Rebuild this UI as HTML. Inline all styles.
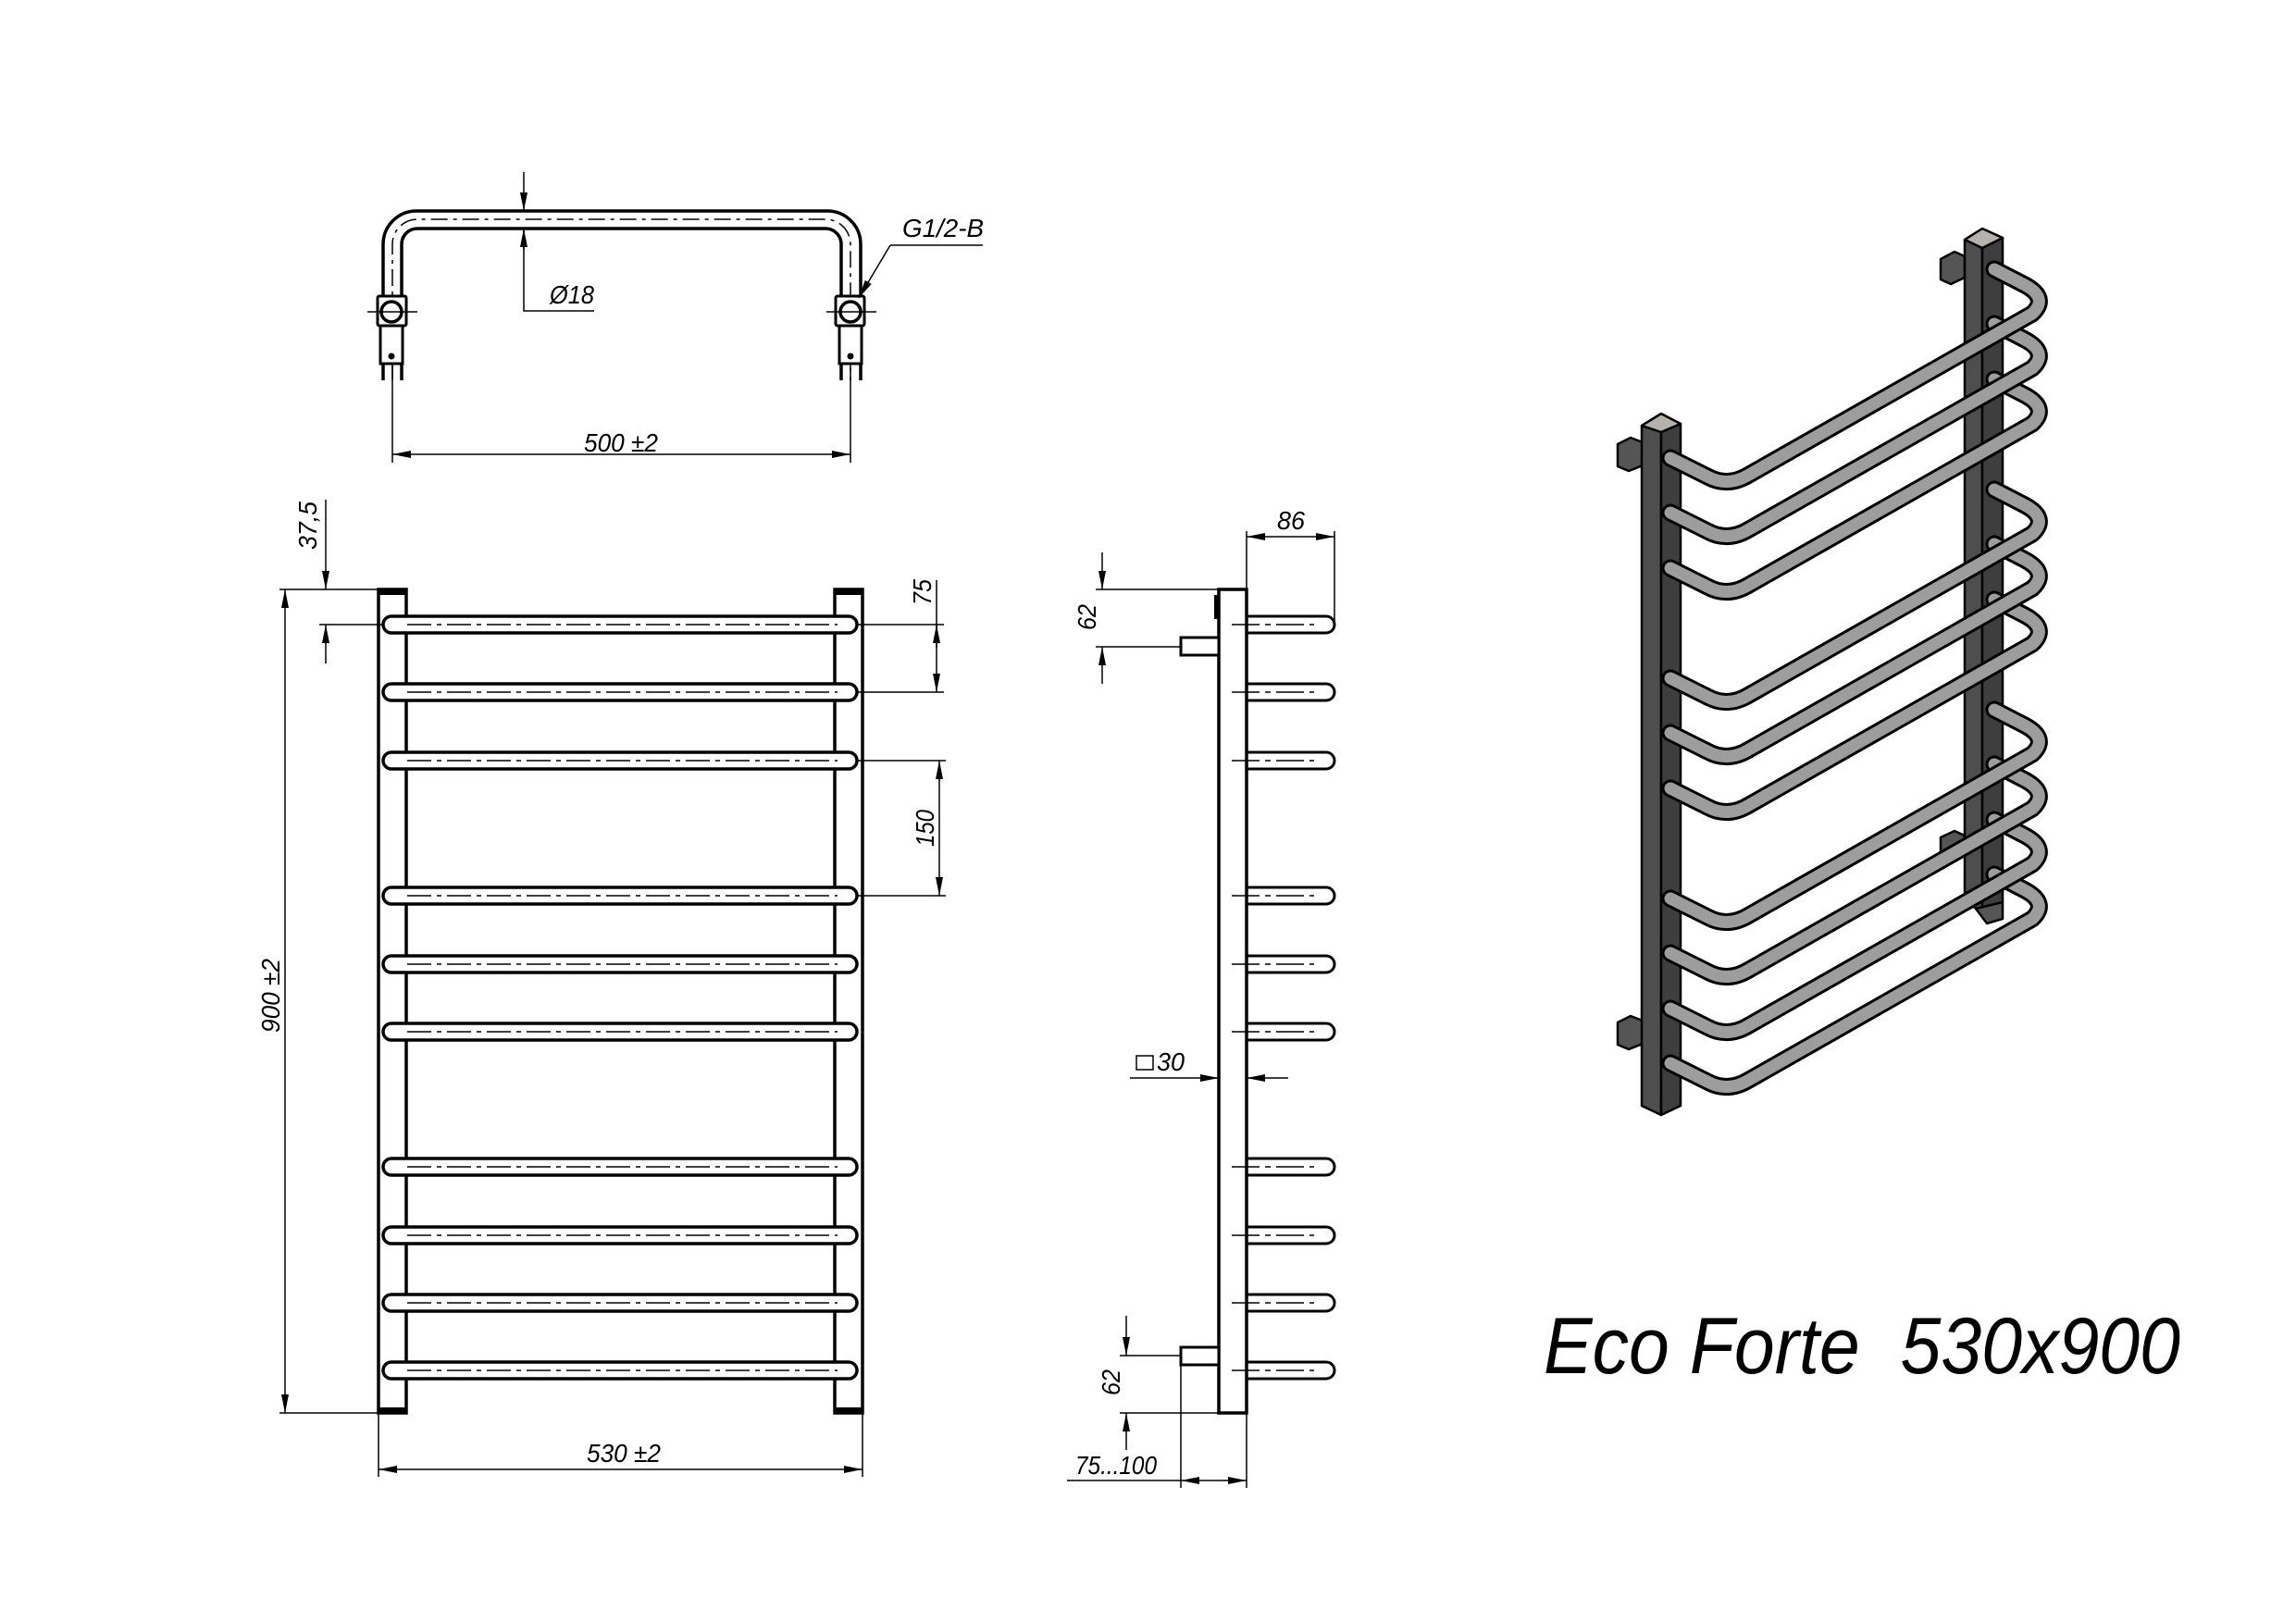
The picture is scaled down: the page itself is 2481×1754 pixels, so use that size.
<!DOCTYPE html>
<html><head><meta charset="utf-8"><style>
html,body{margin:0;padding:0;background:#fff}
svg{display:block}
text{font-family:"Liberation Sans",sans-serif;font-style:italic;fill:#000}
</style></head><body>
<svg width="2481" height="1754" viewBox="0 0 2481 1754" xmlns="http://www.w3.org/2000/svg">
<defs>
<marker id="a" viewBox="0 0 20 8" refX="20" refY="4" markerWidth="20" markerHeight="8" markerUnits="userSpaceOnUse" orient="auto-start-reverse"><path d="M0,0 L20,4 L0,8 z" fill="#000"/></marker>
</defs>
<rect width="2481" height="1754" fill="#fff"/>

<!-- ============ TOP VIEW ============ -->
<g fill="none" stroke="#000">
<path d="M414,411 L414,264 A36,36 0 0 1 450,228 L894,228 A36,36 0 0 1 930,264 L930,411" stroke-width="3.5"/>
<path d="M434,411 L434,264 A17,17 0 0 1 451,247 L893,247 A17,17 0 0 1 909,264 L909,411" stroke-width="3.5"/>
<path d="M424,411 L424,264 A27,27 0 0 1 451,237 L893,237 A27,27 0 0 1 919,264 L919,411" stroke-width="1.5" stroke-dasharray="18,6,4,6"/>
<rect x="408" y="320" width="31" height="32" rx="2" stroke-width="3" fill="#fff"/>
<rect x="411" y="352" width="24" height="41" stroke-width="3" fill="#fff"/>
<circle cx="423" cy="337" r="11" stroke-width="3.5"/>
<circle cx="423" cy="385" r="3" fill="#000"/>
<line x1="397" y1="337" x2="451" y2="337" stroke-width="1.5"/>
<rect x="903" y="320" width="31" height="32" rx="2" stroke-width="3" fill="#fff"/>
<rect x="907" y="352" width="24" height="41" stroke-width="3" fill="#fff"/>
<circle cx="919" cy="337" r="11" stroke-width="3.5"/>
<circle cx="919" cy="385" r="3" fill="#000"/>
<line x1="893" y1="337" x2="947" y2="337" stroke-width="1.5"/>
<line x1="424" y1="393" x2="424" y2="500" stroke-width="1.5"/>
<line x1="919" y1="393" x2="919" y2="500" stroke-width="1.5"/>
<line x1="424" y1="491" x2="919" y2="491" stroke-width="1.5" marker-start="url(#a)" marker-end="url(#a)"/>
<line x1="566" y1="186" x2="566" y2="228" stroke-width="1.5" marker-end="url(#a)"/>
<polyline points="566,247 566,336 642,336" stroke-width="1.5"/>
<line x1="566" y1="270" x2="566" y2="247" stroke-width="1.5" marker-end="url(#a)"/>
<polyline points="962,265 1062,265" stroke-width="1.5"/>
<line x1="962" y1="265" x2="928" y2="322" stroke-width="1.5" marker-end="url(#a)"/>
</g>
<text x="671" y="488" font-size="28" text-anchor="middle" textLength="80" lengthAdjust="spacingAndGlyphs">500 ±2</text>
<text x="594" y="328" font-size="28" textLength="48" lengthAdjust="spacingAndGlyphs">Ø18</text>
<text x="975" y="256" font-size="28" textLength="88" lengthAdjust="spacingAndGlyphs">G1/2-B</text>

<!-- ============ FRONT VIEW ============ -->
<g fill="none" stroke="#000">
<rect x="409" y="637" width="30" height="890" stroke-width="3.5" fill="#fff"/>
<rect x="902" y="637" width="30" height="890" stroke-width="3.5" fill="#fff"/>
<rect x="409" y="637" width="30" height="6" fill="#000" stroke="none"/>
<rect x="902" y="637" width="30" height="6" fill="#000" stroke="none"/>
<rect x="409" y="1521" width="30" height="6" fill="#000" stroke="none"/>
<rect x="902" y="1521" width="30" height="6" fill="#000" stroke="none"/>
<g stroke-width="3.5" fill="#fff">
<rect x="414" y="666" width="512" height="18" rx="9"/>
<rect x="414" y="739" width="512" height="18" rx="9"/>
<rect x="414" y="813" width="512" height="18" rx="9"/>
<rect x="414" y="959" width="512" height="18" rx="9"/>
<rect x="414" y="1033" width="512" height="18" rx="9"/>
<rect x="414" y="1106" width="512" height="18" rx="9"/>
<rect x="414" y="1252" width="512" height="18" rx="9"/>
<rect x="414" y="1326" width="512" height="18" rx="9"/>
<rect x="414" y="1399" width="512" height="18" rx="9"/>
<rect x="414" y="1472" width="512" height="18" rx="9"/>
</g>
<g stroke-width="1.5" stroke-dasharray="26,6,5,6">
<line x1="440" y1="675" x2="905" y2="675"/><line x1="440" y1="748" x2="905" y2="748"/>
<line x1="440" y1="822" x2="905" y2="822"/><line x1="440" y1="968" x2="905" y2="968"/>
<line x1="440" y1="1042" x2="905" y2="1042"/><line x1="440" y1="1115" x2="905" y2="1115"/>
<line x1="440" y1="1261" x2="905" y2="1261"/><line x1="440" y1="1335" x2="905" y2="1335"/>
<line x1="440" y1="1408" x2="905" y2="1408"/><line x1="440" y1="1481" x2="905" y2="1481"/>
</g>
<g stroke-width="1.5">
<line x1="302" y1="637" x2="409" y2="637"/>
<line x1="345" y1="675" x2="414" y2="675"/>
<line x1="352" y1="540" x2="352" y2="637" marker-end="url(#a)"/>
<line x1="352" y1="717" x2="352" y2="675" marker-end="url(#a)"/>
<line x1="302" y1="1527" x2="409" y2="1527"/>
<line x1="308" y1="637" x2="308" y2="1527" marker-start="url(#a)" marker-end="url(#a)"/>
<line x1="926" y1="675" x2="1020" y2="675"/>
<line x1="926" y1="748" x2="1020" y2="748"/>
<line x1="1012" y1="627" x2="1012" y2="748" marker-end="url(#a)"/>
<line x1="1012" y1="700" x2="1012" y2="675" marker-end="url(#a)"/>
<line x1="926" y1="822" x2="1022" y2="822"/>
<line x1="926" y1="968" x2="1022" y2="968"/>
<line x1="1015" y1="822" x2="1015" y2="968" marker-start="url(#a)" marker-end="url(#a)"/>
<line x1="409" y1="1527" x2="409" y2="1596"/>
<line x1="932" y1="1527" x2="932" y2="1596"/>
<line x1="409" y1="1588" x2="932" y2="1588" marker-start="url(#a)" marker-end="url(#a)"/>
</g>
</g>
<text transform="translate(342,568) rotate(-90)" font-size="28" text-anchor="middle" textLength="52" lengthAdjust="spacingAndGlyphs">37,5</text>
<text transform="translate(302,1076) rotate(-90)" font-size="28" text-anchor="middle" textLength="80" lengthAdjust="spacingAndGlyphs">900 ±2</text>
<text transform="translate(1006,640) rotate(-90)" font-size="28" text-anchor="middle" textLength="28" lengthAdjust="spacingAndGlyphs">75</text>
<text transform="translate(1009,895) rotate(-90)" font-size="28" text-anchor="middle" textLength="40" lengthAdjust="spacingAndGlyphs">150</text>
<text x="674" y="1580" font-size="28" text-anchor="middle" textLength="80" lengthAdjust="spacingAndGlyphs">530 ±2</text>

<!-- ============ SIDE VIEW ============ -->
<g fill="none" stroke="#000">
<rect x="1317" y="637" width="30" height="890" stroke-width="3.5" fill="#fff"/>
<rect x="1312" y="643" width="5" height="26" fill="#000" stroke="none"/>
<rect x="1276" y="689" width="41" height="19" stroke-width="3" fill="#fff"/>
<rect x="1276" y="1456" width="41" height="19" stroke-width="3" fill="#fff"/>
<g stroke-width="3">
<path d="M1347,666 L1433,666 A9,9 0 0 1 1433,684 L1347,684"/>
<path d="M1347,739 L1433,739 A9,9 0 0 1 1433,757 L1347,757"/>
<path d="M1347,813 L1433,813 A9,9 0 0 1 1433,831 L1347,831"/>
<path d="M1347,959 L1433,959 A9,9 0 0 1 1433,977 L1347,977"/>
<path d="M1347,1033 L1433,1033 A9,9 0 0 1 1433,1051 L1347,1051"/>
<path d="M1347,1106 L1433,1106 A9,9 0 0 1 1433,1124 L1347,1124"/>
<path d="M1347,1252 L1433,1252 A9,9 0 0 1 1433,1270 L1347,1270"/>
<path d="M1347,1326 L1433,1326 A9,9 0 0 1 1433,1344 L1347,1344"/>
<path d="M1347,1399 L1433,1399 A9,9 0 0 1 1433,1417 L1347,1417"/>
<path d="M1347,1472 L1433,1472 A9,9 0 0 1 1433,1490 L1347,1490"/>
</g>
<g stroke-width="1.5" stroke-dasharray="30,6,6,6">
<line x1="1331" y1="675" x2="1420" y2="675"/><line x1="1331" y1="748" x2="1420" y2="748"/>
<line x1="1331" y1="822" x2="1420" y2="822"/><line x1="1331" y1="968" x2="1420" y2="968"/>
<line x1="1331" y1="1042" x2="1420" y2="1042"/><line x1="1331" y1="1115" x2="1420" y2="1115"/>
<line x1="1331" y1="1261" x2="1420" y2="1261"/><line x1="1331" y1="1335" x2="1420" y2="1335"/>
<line x1="1331" y1="1408" x2="1420" y2="1408"/><line x1="1331" y1="1481" x2="1420" y2="1481"/>
</g>
<g stroke-width="1.5">
<line x1="1347" y1="574" x2="1347" y2="637"/>
<line x1="1442" y1="574" x2="1442" y2="675"/>
<line x1="1347" y1="580" x2="1442" y2="580" marker-start="url(#a)" marker-end="url(#a)"/>
<line x1="1184" y1="637" x2="1317" y2="637"/>
<line x1="1184" y1="699" x2="1276" y2="699"/>
<line x1="1191" y1="597" x2="1191" y2="637" marker-end="url(#a)"/>
<line x1="1191" y1="739" x2="1191" y2="699" marker-end="url(#a)"/>
<line x1="1210" y1="1465" x2="1276" y2="1465"/>
<line x1="1210" y1="1527" x2="1317" y2="1527"/>
<line x1="1217" y1="1422" x2="1217" y2="1465" marker-end="url(#a)"/>
<line x1="1217" y1="1567" x2="1217" y2="1527" marker-end="url(#a)"/>
<line x1="1276" y1="1475" x2="1276" y2="1608"/>
<line x1="1347" y1="1527" x2="1347" y2="1608"/>
<line x1="1153" y1="1600" x2="1276" y2="1600"/>
<line x1="1276" y1="1600" x2="1347" y2="1600" marker-start="url(#a)" marker-end="url(#a)"/>
<line x1="1221" y1="1165" x2="1317" y2="1165" marker-end="url(#a)"/>
<line x1="1392" y1="1165" x2="1347" y2="1165" marker-end="url(#a)"/>
<rect x="1228" y="1141" width="18" height="15"/>
</g>
</g>
<text x="1395" y="572" font-size="28" text-anchor="middle" textLength="30" lengthAdjust="spacingAndGlyphs">86</text>
<text transform="translate(1184,667) rotate(-90)" font-size="28" text-anchor="middle" textLength="28" lengthAdjust="spacingAndGlyphs">62</text>
<text transform="translate(1210,1494) rotate(-90)" font-size="28" text-anchor="middle" textLength="28" lengthAdjust="spacingAndGlyphs">62</text>
<text x="1162" y="1593" font-size="28" textLength="88" lengthAdjust="spacingAndGlyphs">75...100</text>
<text x="1250" y="1157" font-size="28" textLength="30" lengthAdjust="spacingAndGlyphs">30</text>

<!-- ============ 3D VIEW ============ -->
<g stroke="#000" stroke-width="2.5" stroke-linejoin="round">
<polygon points="2097,280 2112,272 2123,277 2123,300 2108,307 2097,302" fill="#555"/>
<polygon points="2097,905 2112,898 2123,903 2123,925 2108,932 2097,927" fill="#555"/>
<polygon points="2123,259 2142,268 2142,985 2123,975" fill="#4e4e4e"/>
<polygon points="2142,268 2164,257 2164,975 2142,985" fill="#3e3e3e"/>
<polygon points="2123,259 2142,247 2164,257 2142,268" fill="#b5b2ad"/>
<polygon points="2135,982 2164,975 2164,993 2147,998" fill="#555"/>
<polygon points="1748,480 1762,473 1775,478 1775,503 1760,509 1748,504" fill="#555"/>
<polygon points="1748,1105 1762,1098 1775,1103 1775,1128 1760,1134 1748,1129" fill="#555"/>
<polygon points="1774,460 1795,467 1795,1205 1774,1195" fill="#4e4e4e"/>
<polygon points="1795,467 1816,458 1816,1195 1795,1205" fill="#3e3e3e"/>
<polygon points="1774,460 1795,447 1816,458 1795,467" fill="#b5b2ad"/>
</g>
<g fill="none" stroke-linecap="round" stroke-linejoin="round">
<g transform="translate(0,1151)"><path d="M2155,-206 L2188,-189 Q2214,-175 2196,-158 L1890,16 Q1867,30 1845,18 L1805,-2" stroke="#000" stroke-width="19"/><path d="M2155,-206 L2188,-189 Q2214,-175 2196,-158 L1890,16 Q1867,30 1845,18 L1805,-2" stroke="#9d9d9d" stroke-width="13"/></g>
<g transform="translate(0,1092)"><path d="M2155,-206 L2188,-189 Q2214,-175 2196,-158 L1890,16 Q1867,30 1845,18 L1805,-2" stroke="#000" stroke-width="19"/><path d="M2155,-206 L2188,-189 Q2214,-175 2196,-158 L1890,16 Q1867,30 1845,18 L1805,-2" stroke="#9d9d9d" stroke-width="13"/></g>
<g transform="translate(0,1032)"><path d="M2155,-206 L2188,-189 Q2214,-175 2196,-158 L1890,16 Q1867,30 1845,18 L1805,-2" stroke="#000" stroke-width="19"/><path d="M2155,-206 L2188,-189 Q2214,-175 2196,-158 L1890,16 Q1867,30 1845,18 L1805,-2" stroke="#9d9d9d" stroke-width="13"/></g>
<g transform="translate(0,973)"><path d="M2155,-206 L2188,-189 Q2214,-175 2196,-158 L1890,16 Q1867,30 1845,18 L1805,-2" stroke="#000" stroke-width="19"/><path d="M2155,-206 L2188,-189 Q2214,-175 2196,-158 L1890,16 Q1867,30 1845,18 L1805,-2" stroke="#9d9d9d" stroke-width="13"/></g>
<g transform="translate(0,854)"><path d="M2155,-206 L2188,-189 Q2214,-175 2196,-158 L1890,16 Q1867,30 1845,18 L1805,-2" stroke="#000" stroke-width="19"/><path d="M2155,-206 L2188,-189 Q2214,-175 2196,-158 L1890,16 Q1867,30 1845,18 L1805,-2" stroke="#9d9d9d" stroke-width="13"/></g>
<g transform="translate(0,794)"><path d="M2155,-206 L2188,-189 Q2214,-175 2196,-158 L1890,16 Q1867,30 1845,18 L1805,-2" stroke="#000" stroke-width="19"/><path d="M2155,-206 L2188,-189 Q2214,-175 2196,-158 L1890,16 Q1867,30 1845,18 L1805,-2" stroke="#9d9d9d" stroke-width="13"/></g>
<g transform="translate(0,735)"><path d="M2155,-206 L2188,-189 Q2214,-175 2196,-158 L1890,16 Q1867,30 1845,18 L1805,-2" stroke="#000" stroke-width="19"/><path d="M2155,-206 L2188,-189 Q2214,-175 2196,-158 L1890,16 Q1867,30 1845,18 L1805,-2" stroke="#9d9d9d" stroke-width="13"/></g>
<g transform="translate(0,616)"><path d="M2155,-206 L2188,-189 Q2214,-175 2196,-158 L1890,16 Q1867,30 1845,18 L1805,-2" stroke="#000" stroke-width="19"/><path d="M2155,-206 L2188,-189 Q2214,-175 2196,-158 L1890,16 Q1867,30 1845,18 L1805,-2" stroke="#9d9d9d" stroke-width="13"/></g>
<g transform="translate(0,556)"><path d="M2155,-206 L2188,-189 Q2214,-175 2196,-158 L1890,16 Q1867,30 1845,18 L1805,-2" stroke="#000" stroke-width="19"/><path d="M2155,-206 L2188,-189 Q2214,-175 2196,-158 L1890,16 Q1867,30 1845,18 L1805,-2" stroke="#9d9d9d" stroke-width="13"/></g>
<g transform="translate(0,497)"><path d="M2155,-206 L2188,-189 Q2214,-175 2196,-158 L1890,16 Q1867,30 1845,18 L1805,-2" stroke="#000" stroke-width="19"/><path d="M2155,-206 L2188,-189 Q2214,-175 2196,-158 L1890,16 Q1867,30 1845,18 L1805,-2" stroke="#9d9d9d" stroke-width="13"/></g>
</g>

<text x="1668" y="1484" font-size="86" textLength="688" lengthAdjust="spacingAndGlyphs" xml:space="preserve">Eco Forte  530x900</text>
</svg>
</body></html>
